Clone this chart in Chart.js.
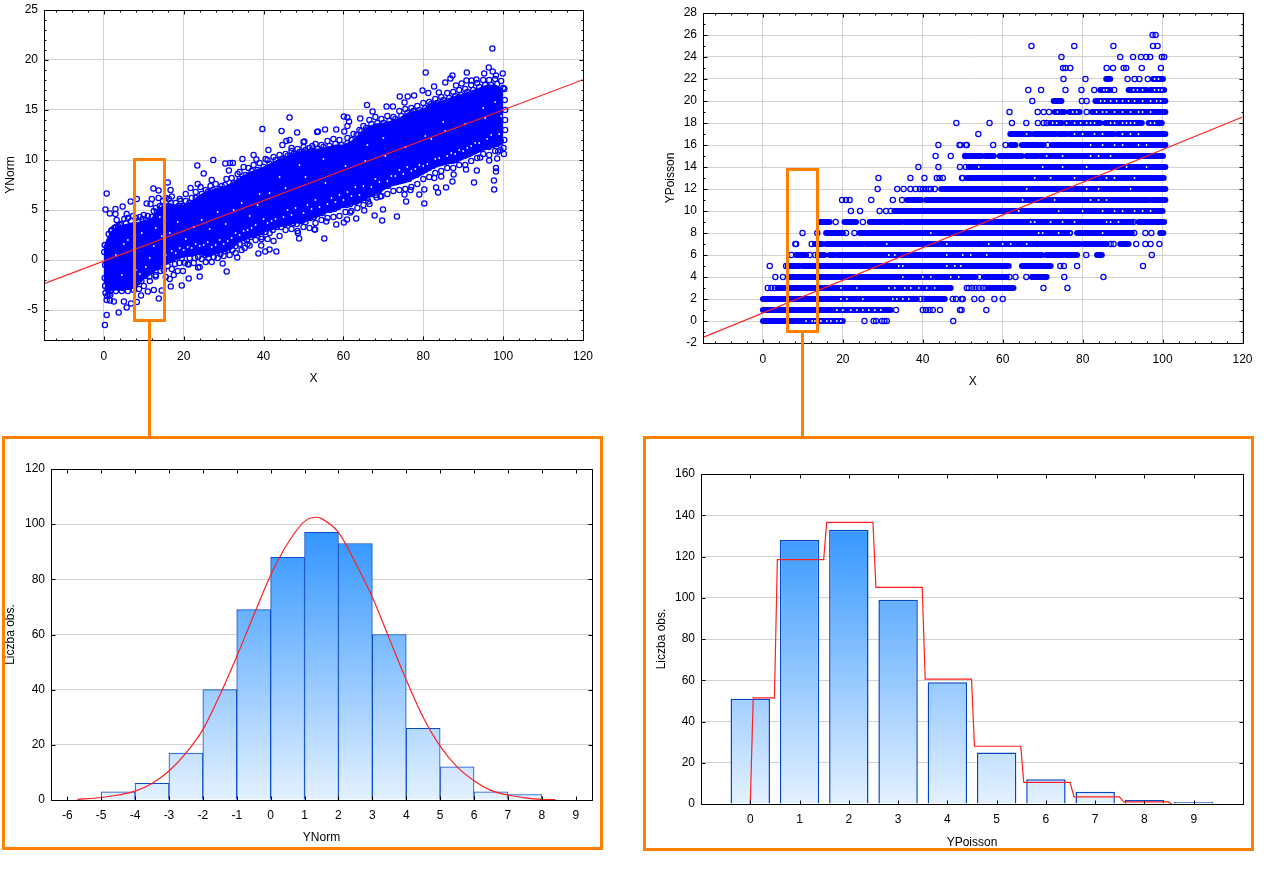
<!DOCTYPE html>
<html><head><meta charset="utf-8">
<style>
html,body{margin:0;padding:0;background:#fff;width:1278px;height:880px;overflow:hidden}
canvas{position:absolute;display:block}
.o{position:absolute;box-sizing:border-box;border:3px solid #ff8000;background:transparent;z-index:5}
.l{position:absolute;background:#ff8000;width:3px;z-index:5}
</style>
<script src="https://cdn.jsdelivr.net/npm/chart.js@4"></script>
</head><body>
<canvas id="a" width="620" height="395" style="left:0;top:0"></canvas>
<canvas id="b" width="628" height="398" style="left:650px;top:0"></canvas>
<canvas id="c" width="620" height="405" style="left:0;top:440px"></canvas>
<canvas id="d" width="620" height="410" style="left:640px;top:440px"></canvas>
<div class="o" style="left:133px;top:158px;width:33px;height:164px"></div>
<div class="l" style="left:148px;top:321px;height:117px"></div>
<div class="o" style="left:786px;top:168px;width:33px;height:165px"></div>
<div class="l" style="left:801px;top:332px;height:106px"></div>
<div class="o" style="left:2px;top:436px;width:601px;height:414px"></div>
<div class="o" style="left:643px;top:436px;width:611px;height:415px"></div>
<script>
// ---------- YNorm scatter ----------
const xTicksScatter=[0,20,40,60,80,100,120];
const normYTicks=[-5,0,5,10,15,20,25];
const poissonYTicks=[-2,0,2,4,6,8,10,12,14,16,18,20,22,24,26,28];
const normFitX=[-15,120];
const normFitY=[-2.37,18.03];
const poissonFitX=[-15,120];
const poissonFitY=[-1.5,18.55];
const bandX=[0,1,2,3,5,7,9,10,12,14,15,16,18,20,22,24,26,28,30,32,34,36,38,40,42,44,46,48,50,52,54,56,58,60,62,64,66,68,70,72,74,76,78,80,82,84,86,88,90,92,94,96,98,100];
const bandHigh=[1.3,2.3,2.9,3.3,3.5,3.7,3.8,3.9,4.2,5.2,5.5,5.7,5.5,5.5,5.9,6.5,6.9,7.1,7.3,7.7,8.2,8.7,9,9.3,9.7,10.1,10.4,10.7,10.9,11.1,11.1,11.3,11.5,11.5,11.9,12.6,13.3,13.6,13.7,13.9,14.2,14.7,14.9,15.1,15.7,15.8,16.1,16.4,16.6,16.9,17.2,17.5,17.5,17.1];
const bandLow=[-2.2,-3,-3,-3,-3,-2.9,-2.4,-1.9,-1.3,-0.8,-0.6,-0.4,0,0.3,0.4,0.6,0.3,0.6,0.8,1.1,1.8,2.1,2.4,2.8,3,3.3,3.5,3.7,3.7,4.1,4.4,4.8,5,5.3,5.5,5.7,6.2,6.6,7,7.4,7.6,7.8,8.2,8.6,9.1,9.4,9.6,9.7,10.1,10.4,10.8,11.1,11.3,11.6];
const normOuter=[[0.25,-6.5],[0.7,-5.5],[0.7,6.65],[0.4,5.05],[1.5,4.65],[2.9,5.1],[2.9,4.6],[3.2,4],[4.7,5.35],[5.7,4.6],[6.7,5.85],[8.25,6.1],[10.7,5.65],[12.4,7.15],[13.7,6.95],[13.7,6.2],[12,6.1],[11.7,5.6],[10,4.5],[16,7.75],[16.7,7],[17,6.35],[19,6.1],[20.5,6.6],[21.7,7.2],[23.4,9.45],[25,8.65],[23.5,7.6],[27,8],[27.4,10],[30.4,9.65],[31.6,9.7],[32.3,9.7],[31.3,8.95],[34,8.8],[34.7,10.1],[37.5,10.5],[38.2,10.05],[39.7,13.1],[44.5,12.9],[46.5,14.25],[48.4,12.75],[44.7,11.5],[45.7,11.9],[46.5,12],[47,11.2],[50,11.8],[53.4,12.8],[52.2,11.4],[41.2,11],[40.5,10.1],
[0.7,-4],[1.5,-4.05],[2.5,-4.15],[5,-4.15],[3.7,-5.25],[5.7,-4.75],[6.8,-4.35],[8.25,-4.2],[9.3,-3.55],[11,-3.15],[12.5,-3],[13.75,-3.85],[14.5,-3.05],[13,-1.65],[11.4,-1.65],[16.75,-2.65],[19.5,-2.55],[21.25,-1.85],[21.2,-0.45],[23.6,-0.75],[24,-1.65],[29.75,-0.35],[30.75,-1.15],[33.4,0.25],[38.7,0.65],[40.4,0.85],[41.5,1.05],[43.2,0.85],[39.4,1.45],[39.5,2.1],[48.9,2.15],[48.6,2.7],[35.25,1.2],[36.5,1.45],[52.75,3.05],
[97.3,21.15],[96.4,19.25],[97.4,18.85],[98.2,18.45],[99.9,18.65],[95.25,18.65],[90.9,18.75],[87.3,18.45],[86.8,18.15],[85.5,17.75],[80.6,18.75],[82.7,17.35],[79.8,16.95],[81.25,16.7],[83.9,16.75],[77.7,16.45],[76.1,16.35],[74.1,16.35],[75.3,15.75],[65.9,15.5],[70.8,15.35],[72.4,15.35],[67.3,14.85],[60.1,14.35],[61,14.25],[61.4,13.85],[61,13.4],[64.2,14.15],[53.6,12.85],[55.4,13.05],[50.2,11.85],[58.2,13.05],[60.2,12.85],[90.8,17.95],[92.1,17.95],[93.3,18.05],[88.2,17.45],[89.6,17.65],
[55.2,2.15],[52.9,3.05],[55.7,3.85],[58.2,3.55],[60.1,3.75],[60.9,4.05],[63.2,4.15],[65.2,4.95],[67.8,4.45],[69.7,3.95],[69.9,5.05],[73.4,4.35],[75.7,5.85],[75.3,6.55],[79,6.55],[80.25,5.65],[80.25,7.05],[83.2,7.25],[83.7,6.75],[85.7,7.25],[87.3,7.85],[87.6,8.55],[82.75,8.2],[84.5,8.35],[92.7,7.75],[93.4,8.95],[90.7,9.05],[97.7,7.95],[97.75,7.05],[98.2,9.2],[98.2,8.85],[100.2,10.6],[98.75,10.85],[98.5,10.15],[96.5,9.95],[94.25,10.25],[66.2,5.85],[61.7,4.75],[68.3,6.25],[69.25,6.35],[76.8,7],
[0.2,1.5],[0.1,0.8],[0.3,-0.5],[0.2,-1.8],[0.3,-2.6],[0.4,-3.3],[0.8,-3.6],[1.2,-3.4],[1.6,-3.5],[0.9,-2.9],[1.2,2.6],[1.8,2.9],[2.6,3.2],[3.5,3.4],[4.3,3.6],[5.1,4.1],[6,4.2],[7.3,4.4],[8,4.2],[9,4.3],[9.7,4.1],[11,4.4],[12.5,4.9],[13,5.2],[14,5.4],[14.8,5.9],[15.5,6.2],[16.3,6.1],[18,5.7],[19.2,5.9],[20.5,5.9],[22,6.2],[23,6.8],[24.2,7.3],[25.5,7],[26.7,7.4],[28,7.6],[29.5,7.4],[30.7,8.1],[32,8.2],[33.5,8.6],[35,9.3],[36.2,9.2],[37.5,9.5],[39,9.7],[41,10],[42.5,10.3],[44,10.5],[45.5,10.6],[47,10.9],[48.5,11.1],[50,11.3],[51.5,11.2],[53,11.6],[54.5,11.5],[56,11.9],[57.5,12.1],[59,12],[61,12.2],[62.5,12.6],[64,13],[65,13.4],[66.5,14],[68,14.3],[69.5,14.1],[71,14.4],[72.5,14.3],[74,14.9],[75.5,15.1],[77,15.2],[78.5,15.4],[80,15.7],[81.5,15.8],[83,16.1],[84.5,16.3],[86,16.7],[87.5,16.8],[89,17],[90.5,17.1],[92,17.5],[93.5,17.7],[95,18],[96.5,18],[98,18.1],[99.5,17.9],[100.3,17.1],[100.4,16],[100.5,15],[100.5,14],[100.5,13],[100.3,12],[100.1,11.2],
[1.5,-3.1],[3,-3.1],[4.5,-3.1],[6,-3.1],[7.5,-3],[8.8,-2.9],[10,-2.6],[11.5,-2.1],[13,-1.5],[14.2,-1.1],[15.5,-1.7],[16.5,-1.9],[17.5,-1.5],[18.5,-1.1],[19.8,-1.1],[21,-0.4],[22.5,-0.3],[24,-0.7],[25.5,-0.2],[27,-0.2],[28.5,0.2],[30,0.4],[31.5,0.5],[33,0.7],[34.5,1],[36,1.6],[38,2],[39.5,2.3],[41,2.1],[42.5,1.9],[44,2.4],[45.5,3],[47,3.1],[48.5,2.9],[50,3.3],[51.5,3.2],[53,3.7],[54.5,4],[56,4.2],[57.5,4.3],[59,4.4],[60.5,4.8],[62,4.9],[63.5,5.2],[65,5.5],[66.5,5.6],[68,6.5],[69.5,6.4],[71,6.6],[72.5,6.9],[74,7],[75.5,7.1],[77,7.3],[78.5,7.6],[80,8.1],[81.5,8.3],[83,8.7],[84.5,8.9],[86,9.2],[87.5,9.2],[89,9.5],[90.5,9.5],[92,9.9],[93.5,10.2],[95,10.6],[96.5,10.5],[98,10.9],[99.3,11]];
const normEdgeLower=[[1,-2.7],[2.2,-2.8],[3.4,-2.7],[4.8,-2.8],[6.2,-2.6],[7.7,-2.5],[8.4,-2.2],[9.4,-2.1],[10.4,-1.6],[11,-1.3],[12,-1.1],[13.5,-0.7],[14.6,-0.4],[15,-1],[16,-0.6],[17,-0.9],[17.8,-0.4],[18.9,-0.3],[19.5,0.2],[20.3,-0.3],[21.5,0.2],[22.8,0.2],[23.6,0.3],[24.5,0.1],[25.3,0.5],[26.2,0.2],[27.5,0.3],[28.3,0.7],[29.2,0.6],[30.2,0.9],[31,1],[32.2,1],[33,1.4],[34,1.6],[35,1.9],[35.8,2],[36.8,2.3],[37.8,2.6],[38.6,2.7],[39.6,2.9],[40.5,2.8],[41.5,2.7],[42.3,3],[43.3,3.3],[44.4,3.3],[45.3,3.6],[46.2,3.7],[47.4,3.7],[48.3,3.6],[49.2,3.9],[50.5,3.8],[51.7,4.2],[52.6,4.3],[53.6,4.6],[54.8,4.7],[55.7,5],[56.6,5],[57.7,5.1],[58.7,5.3],[59.8,5.5],[60.8,5.5],[61.7,5.6],[63,5.8],[64,6],[65,6.2],[66,6.2],[67,6.6],[67.8,7],[69,7],[70,7.4],[71.2,7.4],[72.2,7.7],[73.3,7.8],[74.3,7.9],[75.3,8],[76.4,8.1],[77.4,8.4],[78.3,8.5],[79.4,8.8],[80.5,9],[81.4,9.2],[82.4,9.4],[83.4,9.6],[84.3,9.7],[85.3,9.8],[86.3,9.9],[87.3,10],[88.3,10.1],[89.4,10.3],[90.3,10.4],[91.4,10.6],[92.4,10.9],[93.3,11],[94.4,11.3],[95.4,11.4],[96.4,11.3],[97.4,11.6],[98.4,11.6],[99.4,11.9]];
const normEdgeUpper=[[2,3],[3,3.3],[4,3.5],[5.5,3.7],[6.8,3.9],[8.5,3.9],[10.5,4],[12,4.3],[13.3,4.8],[14.5,5.3],[16.8,5.7],[18.7,5.4],[20,5.4],[21.4,5.7],[23,6.2],[24.5,6.6],[26,6.8],[27.3,7],[29,7.1],[30.3,7.5],[32.5,7.7],[34,8.1],[35.5,8.5],[37,8.9],[38.5,9],[40,9.3],[41.5,9.6],[43,10],[44.5,10.1],[46,10.4],[47.5,10.6],[49,10.8],[50.5,11],[52,10.9],[53.5,11.1],[55,11.3],[56.5,11.4],[58,11.6],[59.5,11.5],[61,11.7],[62,12],[63.3,12.5],[64.5,12.9],[65.7,13.2],[67,13.6],[68.5,13.7],[70,13.7],[71.5,13.9],[73,14.1],[74.5,14.4],[76,14.7],[77.5,14.9],[79,15],[80.5,15.2],[82,15.6],[83.5,15.7],[85,16],[86.5,16.2],[88,16.4],[89.5,16.5],[91,16.8],[92.5,17],[94,17.3],[95.5,17.5],[97,17.5],[98.5,17.6],[100,17.2]];
const normSpecks=[[3,0.5],[4.5,-1.5],[6,2],[8,-1],[9,-1.4],[10.5,-0.7],[11.5,0.2],[13,3.2],[14,4.3],[15.5,0.5],[17,0.9],[18,0.7],[19,1.2],[20,1],[21,1.3],[22,1.2],[23,1.6],[24,1.4],[25,1.5],[26,1.8],[27,1.3],[28,1.5],[29,2],[30,1.6],[31,1.9],[32,2.2],[33,2.7],[34,2.5],[35,2.9],[36,3],[37,3.2],[38,3.5],[39,6.6],[40,4.1],[41,3.7],[42,3.9],[43,4.1],[44,8.3],[45,4.3],[46,5],[47,4.5],[48,5.2],[49,9.5],[50,4.7],[51,5.5],[52,5.1],[53,6],[54,5.3],[55,10.1],[56,5.6],[57,6.2],[58,5.8],[59,6.5],[60,6],[61,6.8],[62,6.4],[63,7.3],[64,6.5],[65,7.4],[66,11.5],[67,7.3],[68,8.1],[69,7.8],[70,12.2],[71,7.9],[72,8.4],[73,8.4],[74,9],[75,8.6],[76,9.3],[77,8.9],[78,9.1],[79,9.5],[80,9.4],[81,9.6],[82,12.1],[83,10.1],[84,10.2],[85,13.8],[86,10.4],[87,10.7],[88,10.6],[89,11],[90,10.9],[91,11.2],[92,11.4],[93,11.7],[94,11.7],[95,15.2],[96,12.1],[97,12.5],[98,15.8],[99,12.6],[99.5,14.4],[5,1.6],[7.5,0.6],[9.5,2.7],[12.5,1.4],[14.5,2.4],[16.5,2.7],[18.5,3.8],[20.5,2.1],[22.5,3.3],[24.5,4],[26.5,3.1],[28.5,4.8],[30.5,3.6],[32.5,5],[34.5,5.7],[36.5,4.4],[38.5,5.5],[41.5,6.7],[45.5,7.2],[50.5,8.3],[55.5,7.7],[60.5,9.4],[65.5,9.9],[70.5,10.4],[75.5,11.3],[80.5,12.4],[85.5,12.9],[90.5,13.6],[95.5,14.2]];
// ---------- YPoisson scatter (index = YPoisson level) ----------
const poissonBands=[
[[0,20]],[[0,32]],[[0,38.5],[41,45.5]],[[3.75,47],[56.5,62.7]],[[6.25,42.5],[43.3,53.2],[55.3,61],[67.3,71]],
[[6.2,9.2],[10,61.5],[64.8,72]],[[8.3,10.8],[13.75,15.4],[16.7,17.9],[18.75,64],[64.8,69.8],[70.9,75.25],[76,78.6],[83.6,84.8]],
[[13,14.8],[15.8,25],[25.8,79.4],[80.25,86],[89.4,91.5]],[[15.8,20],[24.2,25.8],[26.25,35.8],[36.2,76.9],[78.6,92.3],[99.4,100.2]],
[[14.2,16.7],[20.4,23.3],[26.7,34.6],[35.4,92.3],[94,100.4]],[[32.9,100]],[[36,39.6],[40.8,96.5],[97.3,100.7]],
[[44.6,98.2],[98.6,100.7]],[[51,100.3]],[[51.5,54.4],[54.8,64],[64,100.7]],[[50.7,54.8],[55.7,57.75],[59.25,64.8],[66,68.6],[69.4,72.3],[73,100.1]],
[[61.9,63.2],[64.8,70.25],[72.3,100.7]],[[61.9,66.9],[67.9,73.2],[74,76],[76.8,87.75],[88.75,100.7]],
[[71.9,74.8],[75.75,84.4],[85.7,94.8],[96.5,99.8]],[[73,75.4],[76.7,79.25],[82.3,100.7]],[[72.75,74.7],[83.2,100.7]],
[[84.4,86.9],[91.5,96],[96.9,100.4]],[[85.9,86.9],[97.6,100.1]],[],[],[],[]];
const poissonRings=[
[25.4,27.7,28.3,29.8,30.4,31,47.6],[33.3,40,40.8,41.7,42.5,44.3,49.3,49.7,55.9],[39.4,40.4,47.5,48.3,49.7,50,52.9,54.7,57.9,60],
[1.2,2.1,3,51,51.5,52.3,53.2,54,55,55.7,70.2,76.2],[3.1,5,54.2,61.7,63.2,65.9,75.4,85.2],[1.7,5.8,74.4,75.3,78.6,95.1],
[7.1,11.7,13.1,80.9,97.3],[8.1,8.3,12.2,87,87.75,93.4,95.7,97,99.2],[9.9,13.6,20.8,22.9,92.9,95.7,97.2],
[18.2,25,92.7],[22,24.3,29.2,30.8,32],[19.8,20.8,21.7,27.1,32.5,34.8],
[28.7,33.6,35.2,36.9,38.2,39.3,40,40.8,41.5,42,43],[28.9,36.9,40.4,43.5,44.2,45,49.8,50],[38.9,43.9,49.3,50.8],[43.2,47,50.6],
[43.9,49.2,50.8,49.4,51,57.6,60.7,71.25],[53.9],[48.4,56.7,62.3,65.9,68.8,70.25,71,99.25],[61.7,68.75,70.25,71.6,81],[67.4,79.8,81],
[66.4,69.6,75.7,79.7,82.9,87.9],[75.2,80.7,91.25,93,94.2,96.3],[75.1,75.7,76.9,86,87.6,90.25,90.9,94.8,99.6],[74.7,89.4,92.6,94.6,95.9,96.9,99.8,100.4],[67.2,77.9,87.7,97.6,98.75],[97.5,98.25]];
const poissonSpecks=[[10.8,0],[12.3,0],[13,0],[14.5,0],[16,0],[17,0],[18.5,0],[19.5,0],[18.5,1],[20,1],[22,1],[23.5,1],[25,1],[26.5,1],[28,1],[29.5,1],[19.5,2],[21,2],[25,2],[32.5,2],[33.5,2],[35,2],[36.5,2],[19.5,3],[23.5,3],[31.5,3],[33,3],[35.5,3],[37,3],[39,3],[41,3],[43,3],[35,4],[40,4],[42,4],[47,4],[49,4],[34,5],[35,5],[46,5],[48,5],[49.5,5],[31.5,6],[33,6],[46,6],[50,6],[52,6],[56,6],[31,7],[46,7],[56.5,7],[60,7],[62,7],[66,7],[69,8],[70,8],[74,8],[77,8],[85,8],[42,8],[67,9],[68,9],[72,9],[75,9],[78,9],[86,9],[87,9],[89,9],[64,10],[74,10],[80,10],[85,10],[88,10],[90,10],[93,10],[95,10],[97,10],[65,11],[73,11],[82,11],[84,11],[86,11],[66,12],[81,12],[84,12],[92,12],[68,13],[72,13],[78,13],[86,13],[88,13],[93,13],[54,14],[70,14],[75,14],[81,14],[91,14],[96,14],[71,15],[75,15],[82,15],[84,15],[87,15],[82,16],[85,16],[88,16],[90,16],[94,16],[96,16],
[66,17],[78,17],[80,17],[83,17],[85,17],[90,17],[92,17],[94,17],[72.5,18],[73.5,18],[76,18],[78,18],[79.5,18],[81,18],[82,18],[83,18],[87,18],[88,18],[90,18],[91,18],[92,18],[93,18],[97,18],[98,18],[73.7,19],[77.5,19],[78.5,19],[83.5,19],[85,19],[86,19],[88,19],[90,19],[92,19],[94,19],[95,19],[97,19],[84.5,20],[85.5,20],[87,20],[88.5,20],[90,20],[91.5,20],[93,20],[95,20],[97,20],[98.5,20],[99.5,20],[85.3,21],[86,21],[92.7,21],[93.7,21],[95,21],[98,21],[99,21],[99.8,21],[98,22],[99,22]];
// ---------- Histograms ----------
const normBinCentres=[-4.5,-3.5,-2.5,-1.5,-0.5,0.5,1.5,2.5,3.5,4.5,5.5,6.5,7.5];
const normCounts=[3,6,17,40,69,88,97,93,60,26,12,3,2];
const normCurveX=[-5.7,-5,-4.5,-4,-3.5,-3,-2.5,-2,-1.5,-1,-0.5,0,0.5,1,1.35,1.5,2,2.5,3,3.5,4,4.5,5,5.5,6,6.5,7,7.5,8,8.4];
const normCurveY=[0.2,0.9,1.8,3.2,6,10.5,17,25.5,38,52,67,81.5,93,101,102.5,102,97,86,73.5,58.5,43.5,30,19.5,12,7,3.5,1.8,0.8,0.2,0.1];
const normXTicks=[-6,-5,-4,-3,-2,-1,0,1,2,3,4,5,6,7,8,9];
const normCountTicks=[0,20,40,60,80,100,120];
const poissonValues=[0,1,2,3,4,5,6,7,8,9];
const poissonCounts=[51,128,133,99,59,25,12,6,2,1];
const stepX=[0,0.06,0.49,0.55,1.49,1.55,2.49,2.55,3.49,3.55,4.49,4.55,5.49,5.55,6.49,6.57,7.49,7.58,8.49,8.55];
const stepY=[0,51.5,51.5,118.5,118.5,136.5,136.5,105,105,60.5,60.5,28,28,10.5,10.5,3.5,3.5,1,1,0];
const poissonCountTicks=[0,20,40,60,80,100,120,140,160];

const FONT='"Liberation Sans",Arial,sans-serif';
Chart.defaults.font.family=FONT;
Chart.defaults.font.size=12;
Chart.defaults.color='#000';
const BLUE='#0000ff', GRID='#d2d2d2';
const zip=(a,b)=>a.map((v,i)=>({x:v,y:b[i]}));
const pairs=l=>l.map(p=>({x:p[0],y:p[1]}));

function frame(minorX,minorY){return {id:'frame',afterDraw(ch){
  const g=ch.ctx,a=ch.chartArea,X=ch.scales.x,Y=ch.scales.y;
  const L=Math.round(a.left)+.5,R=Math.round(a.right)+.5,T=Math.round(a.top)+.5,B=Math.round(a.bottom)+.5;
  g.save();g.strokeStyle='#000';g.lineWidth=1;g.beginPath();
  const vt=(v,len)=>{const p=Math.round(X.getPixelForValue(v))+.5;g.moveTo(p,T);g.lineTo(p,T+len);g.moveTo(p,B);g.lineTo(p,B-len);};
  const ht=(v,len)=>{const p=Math.round(Y.getPixelForValue(v))+.5;g.moveTo(L,p);g.lineTo(L+len,p);g.moveTo(R,p);g.lineTo(R-len,p);};
  X.ticks.forEach(t=>vt(t.value,4));Y.ticks.forEach(t=>ht(t.value,4));
  if(minorX)for(let v=Math.ceil(X.min/minorX)*minorX;v<X.max;v+=minorX)vt(v,2);
  if(minorY)for(let v=Math.ceil(Y.min/minorY)*minorY;v<Y.max;v+=minorY)ht(v,2);
  g.rect(L,T,R-L,B-T);g.stroke();g.restore();
}};}
function axis(min,max,ticks,title,size,gridOn,tickPad,titlePad){return {
  type:'linear',min,max,offset:false,
  afterBuildTicks:s=>{s.ticks=ticks.map(v=>({value:v}));},
  afterFit:s=>{if(s.isHorizontal()){s.height=size;s.paddingLeft=0;s.paddingRight=0;}else{s.width=size;s.paddingTop=0;s.paddingBottom=0;}},
  border:{display:false},
  grid:{display:gridOn,color:GRID,lineWidth:1,drawTicks:false,offset:false},
  ticks:{autoSkip:false,maxRotation:0,padding:tickPad,font:{size:12,family:FONT},color:'#000'},
  title:{display:true,text:title,font:{size:12,family:FONT},color:'#000',padding:titlePad}
};}
const baseOpts=(pad,x,y)=>({responsive:false,animation:false,events:[],
  layout:{padding:pad},plugins:{legend:{display:false},tooltip:{enabled:false}},
  scales:{x,y}});
const fit=(d)=>({type:'line',data:d,borderColor:'#ff2020',borderWidth:1.2,pointRadius:0,showLine:true,order:0,tension:0,fill:false});
const specks=(d)=>({type:'scatter',data:d,pointRadius:0.9,pointBorderWidth:0,pointBackgroundColor:'#fff',showLine:false,order:1});
const rings=(d)=>({type:'scatter',data:d,pointRadius:2.6,pointBorderWidth:1.25,pointBorderColor:BLUE,pointBackgroundColor:'rgba(255,255,255,0)',showLine:false,order:2});

// Chart A
new Chart(document.getElementById('a'),{type:'scatter',data:{datasets:[
  fit(zip(normFitX,normFitY)),
  specks(pairs(normSpecks)),
  rings(pairs(normOuter.concat(normEdgeLower,normEdgeUpper))),
  {type:'line',data:zip(bandX,bandHigh),borderColor:BLUE,backgroundColor:BLUE,borderWidth:1,pointRadius:0,fill:'+1',order:3,tension:0},
  {type:'line',data:zip(bandX,bandLow),borderColor:BLUE,borderWidth:1,pointRadius:0,fill:false,order:3,tension:0}
]},options:baseOpts({left:0,top:10,right:37,bottom:0},
  axis(-15,120,xTicksScatter,'X',55,true,9,{top:6,bottom:9}),
  axis(-8,25,normYTicks,'YNorm',44,true,6,{top:3,bottom:0})),
 plugins:[frame(4,1)]});

// Chart B
const bandLine=[];
poissonBands.forEach((segs,lv)=>segs.forEach(s=>{bandLine.push({x:s[0],y:lv},{x:s[1],y:lv},{x:NaN,y:NaN});}));
const ringPts=[];
poissonRings.forEach((xs,lv)=>xs.forEach(v=>ringPts.push({x:v,y:lv})));
new Chart(document.getElementById('b'),{type:'scatter',data:{datasets:[
  fit(zip(poissonFitX,poissonFitY)),
  specks(pairs(poissonSpecks)),
  rings(ringPts),
  {type:'line',data:bandLine,borderColor:BLUE,borderWidth:6,borderCapStyle:'round',pointRadius:0,fill:false,spanGaps:false,order:3,tension:0}
]},options:baseOpts({left:0,top:13,right:628-592.5,bottom:0},
  axis(-15,120,xTicksScatter,'X',55,true,9,{top:6,bottom:9}),
  axis(-2,28,poissonYTicks,'YPoisson',53,true,6,{top:13,bottom:0})),
 plugins:[frame(4,1)]});

function grad(maxV){return ctx=>{const ch=ctx.chart;if(!ch.chartArea)return '#8cc0ff';
  const Y=ch.scales.y,g=ch.ctx.createLinearGradient(0,Y.getPixelForValue(maxV),0,Y.getPixelForValue(0));
  g.addColorStop(0,'#2d93ff');g.addColorStop(1,'#e4f1ff');return g;};}

// Chart C
new Chart(document.getElementById('c'),{type:'bar',data:{datasets:[
  {type:'line',data:zip(normCurveX,normCurveY),borderColor:'#ff2020',borderWidth:1.2,pointRadius:0,cubicInterpolationMode:'monotone',order:0,fill:false},
  {type:'bar',data:zip(normBinCentres,normCounts),backgroundColor:grad(100),borderColor:'#0a4cc8',borderWidth:1,barPercentage:1,categoryPercentage:1,order:1}
]},options:baseOpts({left:0,top:29,right:28,bottom:0},
  axis(-6.48,9.48,normXTicks,'YNorm',45,false,8,{top:8,bottom:0}),
  axis(0,120,normCountTicks,'Liczba obs.',51,true,6,{top:3,bottom:0})),
 plugins:[frame(0,0)]});

// Chart D
new Chart(document.getElementById('d'),{type:'bar',data:{datasets:[
  {type:'line',data:zip(stepX,stepY),borderColor:'#ff2020',borderWidth:1.2,pointRadius:0,order:0,tension:0,fill:false},
  {type:'bar',data:zip(poissonValues,poissonCounts),backgroundColor:grad(140),borderColor:'#0446c8',borderWidth:1.5,barPercentage:0.8,categoryPercentage:1,order:1}
]},options:baseOpts({left:0,top:34,right:17,bottom:0},
  axis(-1,10,poissonValues,'YPoisson',46,false,8,{top:8,bottom:0}),
  axis(0,160,poissonCountTicks,'Liczba obs.',61,true,6,{top:14,bottom:0})),
 plugins:[frame(0,0)]});
</script>
</body></html>
